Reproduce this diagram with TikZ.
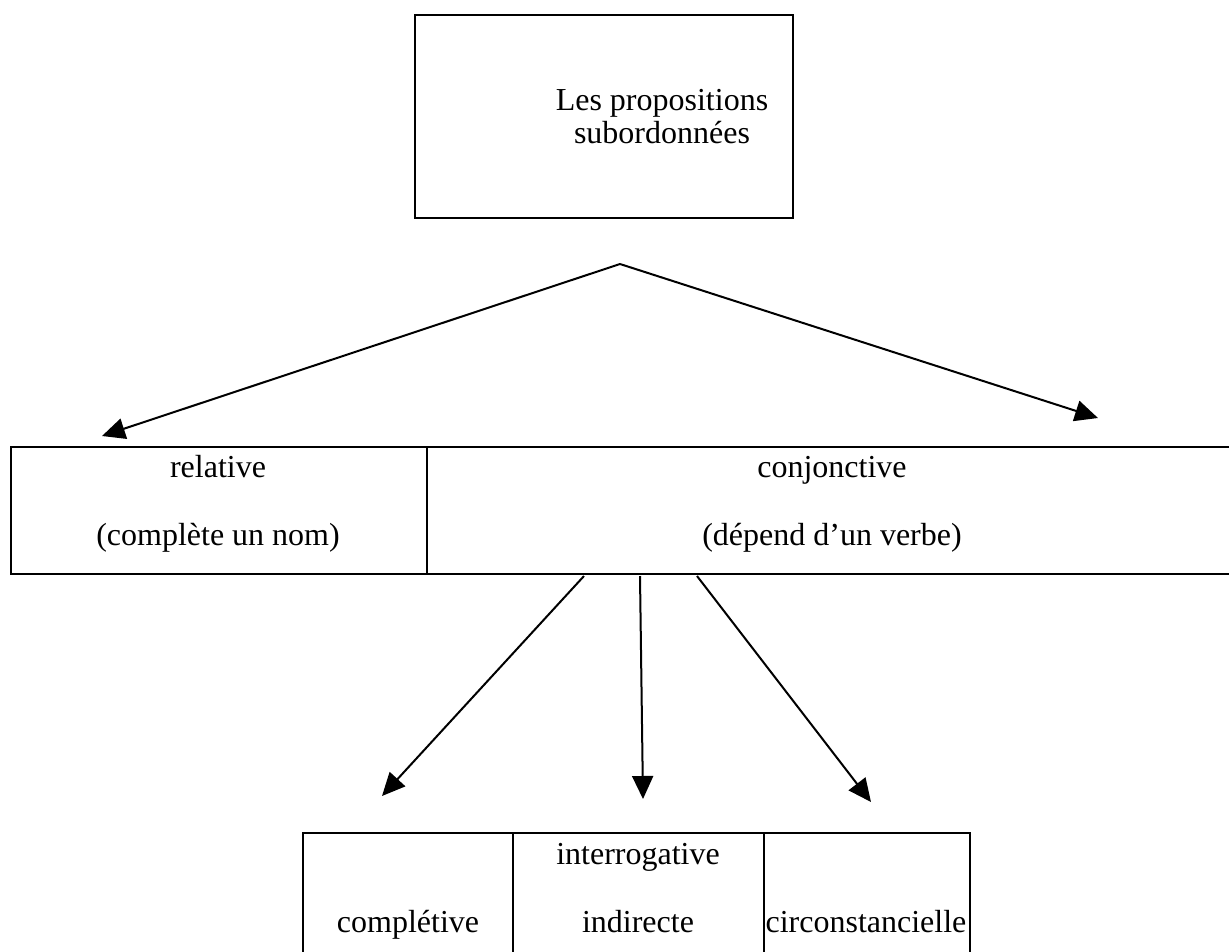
\documentclass[tikz,border=0pt]{standalone}
\usepackage{fontspec}
\setmainfont{Liberation Serif}
\usetikzlibrary{arrows.meta}
\begin{document}
\begin{tikzpicture}[x=1pt,y=-1pt,
  cellbox/.style={draw,line width=2.7pt,inner sep=0pt,outer sep=0pt,anchor=north west},
  txt/.style={anchor=base,inner sep=0pt,font=\fontsize{32}{38}\selectfont},
  arr/.style={line width=2pt,-{Triangle[length=23pt,width=21pt]}}]
\useasboundingbox (0,0) rectangle (1229,951);
\clip (0,0) rectangle (1229,951);
% top box
\node[cellbox,minimum width=378pt,minimum height=203pt] (top) at (415,15) {};
\node[txt] (t1) at (662,110) {Les propositions};
\node[txt] (t2) at (662,143) {subordonnées};
% apex and arrows
\coordinate (apex) at (620,264);
\coordinate (tipL) at (102,436);
\coordinate (tipR) at (1098,418);
\draw[arr] (apex) -- (tipL);
\draw[arr] (apex) -- (tipR);
% middle table
\node[cellbox,minimum width=416pt,minimum height=127pt] (rel) at (11,447) {};
\node[cellbox,minimum width=810pt,minimum height=127pt] (conj) at (427,447) {};
\node[txt] (r1) at (218,477) {relative};
\node[txt] (r2) at (218,545) {(complète un nom)};
\node[txt] (c1) at (832,477) {conjonctive};
\node[txt] (c2) at (832,545) {(dépend d’un verbe)};
% lower arrows
\coordinate (s1) at (584,576);
\coordinate (s2) at (640,576);
\coordinate (s3) at (697,576);
\coordinate (e1) at (382,796);
\coordinate (e2) at (643,799);
\coordinate (e3) at (871,802);
\draw[arr] (s1) -- (e1);
\draw[arr] (s2) -- (e2);
\draw[arr] (s3) -- (e3);
% bottom table
\node[cellbox,minimum width=210pt,minimum height=200pt] (comp) at (303,833) {};
\node[cellbox,minimum width=251pt,minimum height=200pt] (inter) at (513,833) {};
\node[cellbox,minimum width=206pt,minimum height=200pt] (circ) at (764,833) {};
\node[txt] (b1) at (408,932) {complétive};
\node[txt] (b2) at (638,864) {interrogative};
\node[txt] (b3) at (638,932) {indirecte};
\node[txt] (b4) at (866,932) {circonstancielle};
\end{tikzpicture}
\end{document}
